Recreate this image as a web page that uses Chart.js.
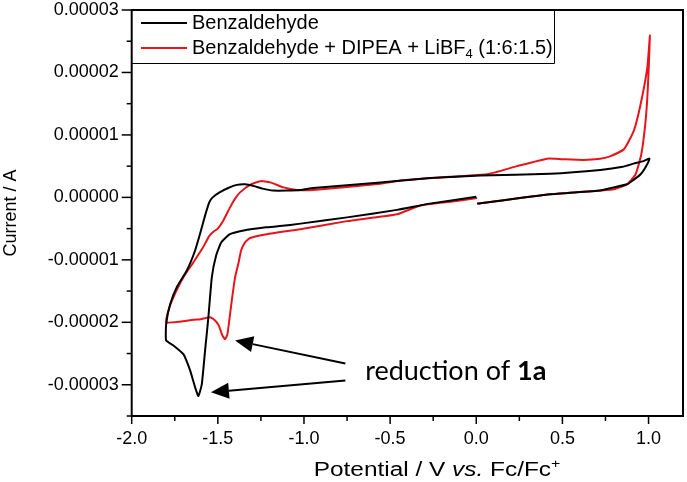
<!DOCTYPE html>
<html>
<head>
<meta charset="utf-8">
<script src="https://cdn.jsdelivr.net/npm/chart.js@4.4.0/dist/chart.umd.min.js"></script>
<style>
  html, body { margin: 0; padding: 0; background: #fff; }
</style>
</head>
<body>
<canvas id="cv" width="687" height="482"></canvas>
<script>
// Cyclic voltammograms in scan order (V vs Fc/Fc+, current in A)
const benzPotential = [0.00, -0.27, -0.46, -0.75, -1.02, -1.14, -1.22, -1.35, -1.43, -1.48, -1.51, -1.535, -1.555, -1.574, -1.593, -1.613, -1.632, -1.661, -1.70, -1.758, -1.80,
  -1.80, -1.777, -1.739, -1.68, -1.632, -1.60, -1.575, -1.55, -1.53, -1.49, -1.44, -1.39, -1.34, -1.29, -1.24, -1.18, -1.10, -1.02, -0.945, -0.557, -0.267, 0.024, 0.43, 0.72, 0.85, 0.913, 0.97, 1.005,
  0.98, 0.954, 0.913, 0.876, 0.798, 0.72, 0.43, 0.005];
const benzCurrent = [0.01e-5, -0.10e-5, -0.20e-5, -0.32e-5, -0.42e-5, -0.46e-5, -0.48e-5, -0.53e-5, -0.59e-5, -0.72e-5, -0.93e-5, -1.28e-5, -1.92e-5, -2.45e-5, -2.99e-5, -3.18e-5, -3.04e-5, -2.77e-5, -2.51e-5, -2.37e-5, -2.29e-5,
  -2.03e-5, -1.71e-5, -1.44e-5, -1.17e-5, -0.85e-5, -0.55e-5, -0.30e-5, -0.08e-5, 0.00e-5, 0.08e-5, 0.15e-5, 0.20e-5, 0.21e-5, 0.18e-5, 0.14e-5, 0.11e-5, 0.11e-5, 0.12e-5, 0.15e-5, 0.24e-5, 0.31e-5, 0.35e-5, 0.38e-5, 0.44e-5, 0.49e-5, 0.54e-5, 0.58e-5, 0.62e-5,
  0.47e-5, 0.37e-5, 0.28e-5, 0.21e-5, 0.16e-5, 0.11e-5, 0.05e-5, -0.10e-5];

const mixPotential = [0.005, -0.15, -0.325, -0.46, -0.751, -1.022, -1.216, -1.313, -1.342, -1.365, -1.38, -1.40, -1.419, -1.435, -1.445, -1.458, -1.475, -1.495, -1.516, -1.545, -1.57, -1.60, -1.642, -1.719, -1.80,
  -1.787, -1.758, -1.70, -1.642, -1.59, -1.55, -1.526, -1.50, -1.468, -1.429, -1.40, -1.371, -1.313, -1.254, -1.196, -1.119, -1.041, -0.945, -0.557, -0.441, -0.15, 0.063, 0.237, 0.411, 0.50, 0.624, 0.72, 0.78, 0.857, 0.915, 0.954, 0.993, 1.008,
  0.996, 0.983, 0.958, 0.925, 0.876, 0.798, 0.72, 0.43, 0.005];
const mixCurrent = [-0.01e-5, -0.07e-5, -0.13e-5, -0.27e-5, -0.38e-5, -0.51e-5, -0.59e-5, -0.65e-5, -0.72e-5, -0.85e-5, -1.05e-5, -1.28e-5, -1.65e-5, -2.00e-5, -2.20e-5, -2.27e-5, -2.20e-5, -2.05e-5, -1.97e-5, -1.92e-5, -1.93e-5, -1.95e-5, -1.96e-5, -1.99e-5, -2.00e-5,
  -1.81e-5, -1.60e-5, -1.28e-5, -1.04e-5, -0.82e-5, -0.62e-5, -0.55e-5, -0.50e-5, -0.37e-5, -0.16e-5, -0.02e-5, 0.08e-5, 0.20e-5, 0.26e-5, 0.24e-5, 0.16e-5, 0.12e-5, 0.12e-5, 0.22e-5, 0.27e-5, 0.33e-5, 0.37e-5, 0.50e-5, 0.62e-5, 0.61e-5, 0.60e-5, 0.62e-5, 0.66e-5, 0.77e-5, 1.07e-5, 1.49e-5, 2.08e-5, 2.59e-5,
  1.76e-5, 1.23e-5, 0.69e-5, 0.37e-5, 0.21e-5, 0.13e-5, 0.11e-5, 0.05e-5, -0.10e-5];

const seriesNames = ['Benzaldehyde', 'Benzaldehyde + DIPEA + LiBF'];
const seriesColors = ['#000000', '#e8141b'];

// axis ranges and tick steps
const xMin = -2.0, xMax = 1.2, xStep = 0.25;
const yMin = -0.000035, yMax = 0.00003, yStep = 0.000005;

// annotation arrows (data coords)
const arrows = [
  { tip: [-1.40, -2.29e-5], tail: [-0.76, -2.66e-5] },
  { tip: [-1.54, -3.12e-5], tail: [-0.76, -2.93e-5] }
];
const noteAt = [-0.645, -2.93e-5];

const FONT = '"Liberation Sans", Arial, sans-serif';
const NOTE_FONT = 'Lato, "Open Sans", sans-serif';

function toPoints(xs, ys) {
  return xs.map((v, i) => ({ x: v, y: ys[i] }));
}

function isMajorX(v) { return Math.abs(v * 2 - Math.round(v * 2)) < 1e-6; }
function isMajorY(v) { return Math.abs(v / 1e-5 - Math.round(v / 1e-5)) < 1e-4; }

const overlay = {
  id: 'overlay',
  afterDraw(chart) {
    const { ctx, chartArea: a, scales: { x, y } } = chart;
    ctx.save();
    ctx.strokeStyle = '#000';
    ctx.fillStyle = '#000';

    // frame
    ctx.lineWidth = 2;
    ctx.strokeRect(a.left, a.top, a.right - a.left, a.bottom - a.top);

    // tick marks, outward
    ctx.lineWidth = 1.5;
    x.ticks.forEach(t => {
      const px = x.getPixelForValue(t.value);
      ctx.beginPath();
      ctx.moveTo(px, a.bottom);
      ctx.lineTo(px, a.bottom + (isMajorX(t.value) ? 8 : 5));
      ctx.stroke();
    });
    y.ticks.forEach(t => {
      const py = y.getPixelForValue(t.value);
      ctx.beginPath();
      ctx.moveTo(a.left, py);
      ctx.lineTo(a.left - (isMajorY(t.value) ? 10 : 5), py);
      ctx.stroke();
    });

    // legend box
    ctx.lineWidth = 1;
    ctx.beginPath();
    ctx.moveTo(a.left, 63.5);
    ctx.lineTo(554.5, 63.5);
    ctx.lineTo(554.5, a.top);
    ctx.stroke();
    const rows = [23, 48];
    ctx.font = '20px ' + FONT;
    ctx.textBaseline = 'middle';
    ctx.textAlign = 'left';
    rows.forEach((ry, i) => {
      ctx.strokeStyle = seriesColors[i];
      ctx.lineWidth = 2;
      ctx.beginPath();
      ctx.moveTo(141, ry);
      ctx.lineTo(187, ry);
      ctx.stroke();
      ctx.fillText(seriesNames[i], 192, ry);
    });
    let lx = 192 + ctx.measureText(seriesNames[1]).width;
    ctx.font = '13px ' + FONT;
    ctx.fillText('4', lx, rows[1] + 6);
    lx += ctx.measureText('4').width;
    ctx.font = '20px ' + FONT;
    ctx.fillText(' (1:6:1.5)', lx, rows[1]);

    // axis titles
    ctx.strokeStyle = '#000';
    ctx.font = '18px ' + FONT;
    ctx.save();
    ctx.translate(11, (a.top + a.bottom) / 2);
    ctx.rotate(-Math.PI / 2);
    ctx.textAlign = 'center';
    ctx.fillText('Current / A', 0, 0);
    ctx.restore();

    const parts = [
      ['Potential / V ', '20px ' + FONT, 0],
      ['vs.', 'italic 20px ' + FONT, 0],
      [' Fc/Fc', '20px ' + FONT, 0],
      ['+', '13px ' + FONT, -8]
    ];
    const stretch = 1.22;
    let total = 0;
    parts.forEach(p => { ctx.font = p[1]; total += ctx.measureText(p[0]).width; });
    ctx.save();
    ctx.translate(437, 476);
    ctx.scale(stretch, 1);
    let tx = -total / 2;
    ctx.textAlign = 'left';
    ctx.textBaseline = 'alphabetic';
    parts.forEach(p => {
      ctx.font = p[1];
      ctx.fillText(p[0], tx, p[2]);
      tx += ctx.measureText(p[0]).width;
    });
    ctx.restore();

    // arrows
    ctx.strokeStyle = '#000';
    ctx.fillStyle = '#000';
    ctx.lineWidth = 2;
    arrows.forEach(ar => {
      const x1 = x.getPixelForValue(ar.tail[0]), y1 = y.getPixelForValue(ar.tail[1]);
      const x2 = x.getPixelForValue(ar.tip[0]), y2 = y.getPixelForValue(ar.tip[1]);
      const ang = Math.atan2(y2 - y1, x2 - x1);
      const len = 18, half = 8;
      const bx = x2 - len * Math.cos(ang), by = y2 - len * Math.sin(ang);
      ctx.beginPath();
      ctx.moveTo(x1, y1);
      ctx.lineTo(bx, by);
      ctx.stroke();
      ctx.beginPath();
      ctx.moveTo(x2, y2);
      ctx.lineTo(bx + half * Math.sin(ang), by - half * Math.cos(ang));
      ctx.lineTo(bx - half * Math.sin(ang), by + half * Math.cos(ang));
      ctx.closePath();
      ctx.fill();
    });

    // note text
    const nx = x.getPixelForValue(noteAt[0]), ny = y.getPixelForValue(noteAt[1]);
    ctx.textBaseline = 'alphabetic';
    ctx.font = '27px ' + NOTE_FONT;
    ctx.fillText('reduction of ', nx, ny);
    const w = ctx.measureText('reduction of ').width;
    ctx.font = 'bold 27px ' + NOTE_FONT;
    ctx.fillText('1a', nx + w, ny);

    ctx.restore();
  }
};

new Chart(document.getElementById('cv'), {
  type: 'scatter',
  data: {
    datasets: [
      { label: seriesNames[0], data: toPoints(benzPotential, benzCurrent), borderColor: seriesColors[0] },
      { label: seriesNames[1], data: toPoints(mixPotential, mixCurrent), borderColor: seriesColors[1] }
    ].map(d => Object.assign(d, { showLine: true, pointRadius: 0, borderWidth: 2, tension: 0.15, fill: false }))
  },
  options: {
    responsive: false,
    animation: false,
    devicePixelRatio: 1,
    layout: { padding: { top: 10, right: 4, left: 0, bottom: 0 } },
    plugins: { legend: { display: false }, tooltip: { enabled: false } },
    scales: {
      x: {
        type: 'linear', min: xMin, max: xMax,
        grid: { display: false, drawTicks: false },
        border: { display: false },
        ticks: {
          stepSize: xStep, includeBounds: false, autoSkip: false, maxRotation: 0,
          padding: 12, color: '#000', font: { family: FONT, size: 18 },
          callback: v => isMajorX(v) ? v.toFixed(1) : ''
        },
        afterFit: s => { s.height = 66; s.paddingLeft = 0; s.paddingRight = 0; }
      },
      y: {
        type: 'linear', min: yMin, max: yMax,
        grid: { display: false, drawTicks: false },
        border: { display: false },
        ticks: {
          stepSize: yStep, includeBounds: false, autoSkip: false,
          padding: 13, color: '#000', font: { family: FONT, size: 18 },
          callback: v => isMajorY(v) ? v.toFixed(5) : ''
        },
        afterFit: s => { s.width = 131.7; s.paddingTop = 0; s.paddingBottom = 0; }
      }
    }
  },
  plugins: [overlay]
});
</script>
</body>
</html>
